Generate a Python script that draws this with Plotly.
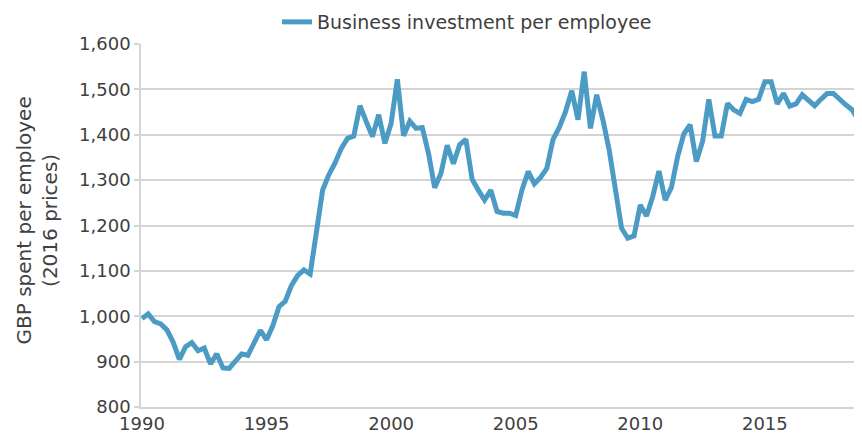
import plotly.graph_objects as go

start_year = 1990
values = [
    995, 1005, 988, 983, 970, 943, 905, 933, 942, 924,
    930, 895, 917, 886, 885, 902, 917, 914, 939, 969,
    948, 979, 1021, 1033, 1068, 1090, 1102, 1093, 1185, 1278,
    1312, 1338, 1370, 1392, 1397, 1464, 1429, 1396, 1444, 1381,
    1425, 1522, 1398, 1430, 1414, 1416, 1359, 1283, 1315, 1377,
    1336, 1378, 1390, 1302, 1278, 1256, 1278, 1231, 1227, 1227,
    1222, 1278, 1319, 1292, 1306, 1326, 1390, 1416, 1451, 1497,
    1433, 1539, 1414, 1488, 1433, 1367, 1280, 1194, 1172, 1177,
    1245, 1221, 1264, 1320, 1256, 1284, 1352, 1402, 1422, 1341,
    1385, 1478, 1397, 1397, 1469, 1455, 1447, 1478, 1473, 1478,
    1517, 1517, 1468, 1491, 1463, 1468, 1488, 1477, 1464, 1478,
    1491, 1491, 1477, 1466, 1455, 1433,
]
quarters = [start_year + i / 4 for i in range(len(values))]
tick_years = [1990, 1995, 2000, 2005, 2010, 2015]
tick_labels = [str(y) for y in tick_years]
y_ticks = [800, 900, 1000, 1100, 1200, 1300, 1400, 1500, 1600]
y_labels = ["800", "900", "1,000", "1,100", "1,200", "1,300", "1,400", "1,500", "1,600"]

series_name = "Business investment per employee"
y_title = "GBP spent per employee<br>(2016 prices)"

FONT = "DejaVu Sans"
TXT = "#404040"
GRID = "#D4D4D4"

# the page body adds an 8px offset; size the figure to fill the rest
W, H = 854, 436

fig = go.Figure()
fig.add_trace(go.Scatter(
    x=quarters, y=values, mode="lines", name=series_name,
    line=dict(color="#4B9BC5", width=5),
))

fig.update_layout(
    width=W, height=H,
    margin=dict(l=133, r=0, t=36, b=37, autoexpand=False),
    paper_bgcolor="white", plot_bgcolor="white",
    font=dict(family=FONT, size=18, color=TXT),
    showlegend=True,
    legend=dict(
        orientation="h", xref="container", yref="container",
        x=269 / W, xanchor="left",
        y=1 - 14 / H, yanchor="middle",
        font=dict(family=FONT, size=19, color=TXT),
        bgcolor="rgba(0,0,0,0)",
    ),
    xaxis=dict(
        range=[1989.96, 2018.9],
        tickvals=tick_years, ticktext=tick_labels,
        showgrid=False, zeroline=False,
        showline=True, linecolor=GRID, linewidth=1.5, ticks="",
        automargin=False,
        tickfont=dict(family=FONT, size=18, color=TXT),
    ),
    yaxis=dict(
        range=[800, 1600],
        tickvals=y_ticks, ticktext=y_labels,
        showgrid=True, gridcolor=GRID, gridwidth=1.5,
        zeroline=False,
        showline=True, linecolor=GRID, linewidth=1.5,
        ticks="outside", ticklen=5, tickcolor=GRID, tickwidth=1.5,
        automargin=False,
        tickfont=dict(family=FONT, size=18, color=TXT),
    ),
    annotations=[dict(
        text=y_title, textangle=-90, showarrow=False,
        xref="paper", yref="paper", x=0, y=0.5,
        xanchor="center", yanchor="middle", xshift=-105, yshift=5,
        font=dict(family=FONT, size=20, color=TXT),
    )],
)

fig.write_html("out.html")
